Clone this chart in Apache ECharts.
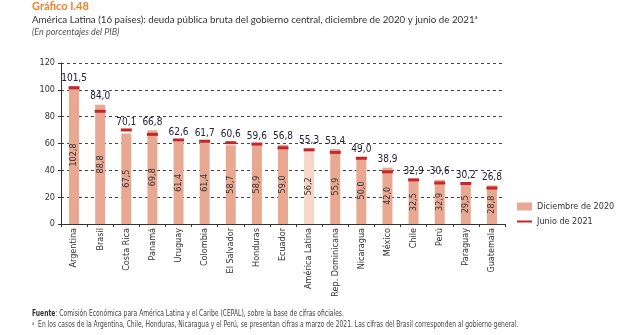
<!DOCTYPE html>
<html><head><meta charset="utf-8">
<script src="https://cdn.jsdelivr.net/npm/echarts@6/dist/echarts.min.js"></script>
<style>html,body{margin:0;padding:0;background:#fff}#c{width:630px;height:335px}</style>
</head><body><div id="c"></div>
<script>
var categories = ['Argentina','Brasil','Costa Rica','Panamá','Uruguay','Colombia','El Salvador','Honduras','Ecuador','América Latina','Rep. Dominicana','Nicaragua','México','Chile','Perú','Paraguay','Guatemala'];
var dec2020 = [102.8, 88.8, 67.5, 69.8, 61.4, 61.4, 58.7, 58.9, 59.0, 56.2, 55.9, 50.0, 42.0, 32.5, 32.9, 29.5, 28.8];
var jun2021 = [101.5, 84.0, 70.1, 66.8, 62.6, 61.7, 60.6, 59.6, 56.8, 55.3, 53.4, 49.0, 38.9, 32.9, 30.6, 30.2, 26.8];
var yTicks = [0, 20, 40, 60, 80, 100, 120];
var highlight = 'América Latina';

var NARROW = '"Liberation Sans Narrow","DejaVu Sans Condensed",sans-serif';
var BAR = '#E9A892', BAR_LIGHT = '#F6D6C8', MARK = '#C4262C';
function fmt(v){ return v.toFixed(1).replace('.', ','); }

var chart = echarts.init(document.getElementById('c'), null, {renderer:'canvas'});
var markerData = jun2021.map(function(v,i){ return [i, v, dec2020[i]]; });

chart.setOption({
  animation:false,
  title:[
    {text:'Gráfico I.48', left:32, top:1, padding:0, textStyle:{color:'#F0832E', fontSize:11, fontWeight:'bold', fontFamily:'Lato'}},
    {text:'América Latina (16 países): deuda pública bruta del gobierno central, diciembre de 2020 y junio de 2021{s|a}', left:32, top:14, padding:0,
     textStyle:{color:'#333', fontSize:9.75, fontWeight:'normal', fontFamily:'Lato', rich:{s:{fontSize:6, verticalAlign:'top', padding:[0,0,6,0], color:'#333', fontFamily:'Lato'}}}},
    {text:'(En porcentajes del PIB)', left:32, top:28, padding:0, textStyle:{color:'#555', fontSize:9, fontStyle:'italic', fontWeight:'normal', fontFamily:'Lato'}}
  ],
  grid:{left:61, right:125, top:63, bottom:111},
  legend:[
    {data:[{name:'Diciembre de 2020', icon:'rect'}], orient:'vertical', left:517, top:202, padding:0, itemWidth:15, itemHeight:8, itemGap:4,
     textStyle:{fontFamily:NARROW, fontSize:9, color:'#333'}},
    {data:[{name:'Junio de 2021', icon:'rect'}], orient:'vertical', left:517, top:217, padding:0, itemWidth:15, itemHeight:2, itemGap:4,
     textStyle:{fontFamily:NARROW, fontSize:9, color:'#333'}}
  ],
  xAxis:{type:'category', data:categories,
    axisLine:{lineStyle:{color:'#333', width:1}},
    axisTick:{show:true, length:3, lineStyle:{color:'#333'}},
    axisLabel:{rotate:90, fontFamily:NARROW, fontSize:9, color:'#333', margin:4, interval:0}
  },
  yAxis:{type:'value', min:0, max:120, interval:20,
    axisLine:{show:true, lineStyle:{color:'#333'}},
    axisTick:{show:true, length:3, lineStyle:{color:'#333'}},
    axisLabel:{fontFamily:NARROW, fontSize:9, color:'#333', margin:6},
    splitLine:{show:true, lineStyle:{color:'#444', type:[3,3], width:1}}
  },
  series:[
    {name:'Diciembre de 2020', type:'bar', barWidth:10, itemStyle:{color:BAR},
     data:dec2020.map(function(v,i){ return {value:v, itemStyle:{color: categories[i]===highlight ? BAR_LIGHT : BAR}}; }),
     label:{show:true, position:'inside', rotate:90, fontFamily:NARROW, fontSize:9, color:'#333', formatter:function(p){return fmt(p.value);}}
    },
    {name:'Junio de 2021', type:'custom', itemStyle:{color:MARK}, z:5,
     data:markerData,
     renderItem:function(params, api){
       var i = api.value(0), j = api.value(1), d = api.value(2);
       var p = api.coord([i, j]);
       var top = api.coord([i, Math.max(j, d)]);
       return {type:'group', children:[
         {type:'rect', shape:{x:p[0]-5.5, y:p[1]-1.5, width:11, height:3}, style:{fill:MARK}},
         {type:'text', style:{text:fmt(j), x:top[0], y:top[1]-3, textAlign:'center', textVerticalAlign:'bottom', fill:'#223', font:'10px '+NARROW}}
       ]};
     }
    }
  ],
  graphic:[
    {type:'text', x:32, y:314, scaleX:0.835, style:{x:0, y:0, verticalAlign:'middle', rich:{b:{fontWeight:'bold', fontFamily:NARROW, fontSize:8, fill:'#333'}, n:{fontFamily:NARROW, fontSize:8, fill:'#444'}},
      text:'{b|Fuente}{n|: Comisión Económica para América Latina y el Caribe (CEPAL), sobre la base de cifras oficiales.}'}},
    {type:'text', x:32, y:325, scaleX:0.835, style:{x:0, y:0, verticalAlign:'middle', rich:{s:{fontFamily:NARROW, fontSize:5, fill:'#444', verticalAlign:'top'}, n:{fontFamily:NARROW, fontSize:8, fill:'#444'}},
      text:'{s|a}{n|  En los casos de la Argentina, Chile, Honduras, Nicaragua y el Perú, se presentan cifras a marzo de 2021. Las cifras del Brasil corresponden al gobierno general.}'}}
  ]
});
</script></body></html>
